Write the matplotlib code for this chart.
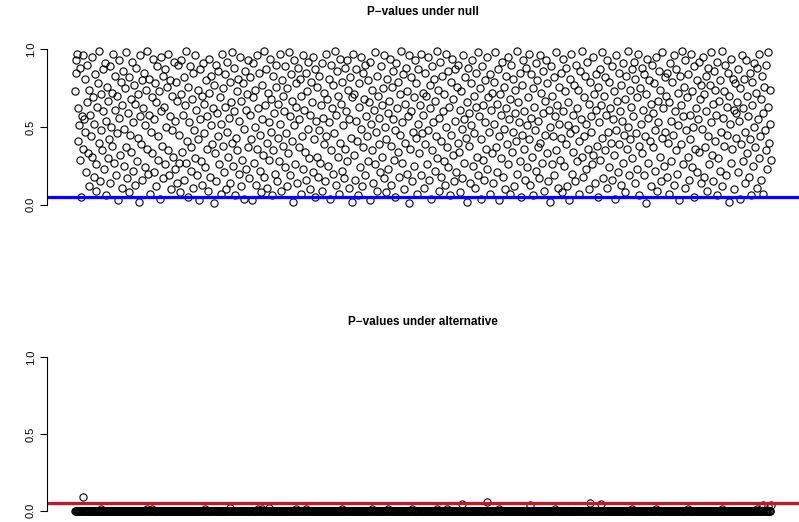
import numpy as np
import matplotlib
matplotlib.use("Agg")
import matplotlib.pyplot as plt

# p-values under the null (in index order)
p_null = [
    .73, .85, .93, .97, .41, .62, .51, .29, .88, .05, .57, .96, .36, .55, .81, .47, .21, .66, .90, .33, .12, .74, .58, .44, .31, .95, .69, .18, .52, .84, .26, .09, .63, .78, .40, .99, .15, .71, .48, .35, .87, .60, .23, .91, .06, .54, .76, .30, .67, .42,
    .89, .14, .50, .72, .38, .97, .27, .61, .83, .19, .46, .70, .03, .93, .56, .32, .79, .11, .64, .86, .25, .49, .75, .37, .98, .17, .59, .82, .08, .45, .68, .34, .92, .22, .53, .77, .13, .65, .88, .28, .43, .71, .02, .96, .57, .39, .80, .16, .62, .85,
    .24, .51, .74, .36, .99, .20, .58, .81, .07, .47, .69, .33, .94, .21, .55, .78, .12, .66, .89, .29, .44, .73, .04, .95, .60, .38, .83, .17, .63, .87, .26, .50, .76, .35, .97, .19, .57, .80, .10, .48, .70, .31, .92, .23, .54, .79, .14, .67, .90, .27,
    .45, .08, .71, .93, .34, .58, .16, .82, .64, .27, .99, .41, .05, .76, .53, .89, .22, .37, .68, .11, .85, .48, .30, .96, .61, .19, .74, .42, .03, .87, .55, .28, .70, .13, .91, .46, .65, .24, .80, .36, .57, .09, .94, .72, .18, .51, .83, .39, .62, .01,
    .77, .33, .90, .15, .59, .44, .86, .26, .69, .07, .52, .97, .38, .75, .21, .63, .84, .10, .47, .92, .31, .56, .79, .14, .66, .40, .98, .25, .60, .88, .06, .43, .73, .35, .81, .20, .54, .95, .12, .67, .29, .78, .49, .04, .86, .61, .23, .71, .37, .93,
    .17, .58, .82, .42, .03, .69, .91, .27, .50, .74, .13, .96, .36, .62, .85, .22, .45, .08, .77, .55, .32, .99, .18, .64, .87, .40, .11, .72, .53, .29, .94, .47, .68, .06, .83, .35, .59, .20, .76, .90, .15, .43, .65, .28, .97, .52, .09, .80, .38, .70,
    .60, .24, .89, .46, .12, .75, .33, .98, .57, .19, .84, .41, .67, .02, .93, .51, .26, .78, .63, .14, .88, .37, .55, .81, .07, .70, .44, .96, .23, .61, .34, .85, .16, .73, .49, .92, .30, .58, .10, .79, .66, .21, .95, .42, .05, .87, .54, .31, .76, .18,
    .83, .48, .27, .64, .91, .09, .56, .72, .39, .15, .97, .44, .68, .25, .81, .53, .04, .90, .35, .62, .77, .20, .46, .99, .13, .58, .86, .31, .70, .07, .94, .40, .65, .22, .79, .51, .17, .88, .36, .60, .93, .28, .74, .11, .55, .82, .43, .02, .69, .97,
    .32, .71, .16, .54, .87, .41, .06, .78, .63, .24, .95, .49, .12, .85, .37, .68, .90, .19, .57, .44, .80, .28, .66, .03, .92, .52, .35, .74, .14, .61, .98, .26, .47, .83, .09, .70, .39, .56, .21, .89, .64, .31, .75, .17, .96, .50, .42, .08, .81, .59,
    .23, .67, .94, .38, .13, .76, .55, .86, .29, .48, .05, .91, .62, .34, .79, .18, .71, .45, .99, .27, .53, .84, .10, .65, .40, .88, .20, .73, .57, .01, .96, .36, .60, .82, .15, .47, .69, .25, .93, .43, .78, .07, .52, .87, .33, .64, .19, .97, .46, .72,
    .58, .11, .85, .39, .70, .26, .95, .48, .16, .77, .62, .04, .89, .35, .53, .81, .22, .67, .44, .99, .30, .74, .09, .56, .92, .41, .18, .83, .60, .28, .71, .13, .97, .50, .37, .86, .24, .63, .06, .79, .45, .94, .32, .68, .15, .87, .54, .21, .76, .40,
    .90, .34, .61, .08, .73, .49, .17, .96, .55, .27, .82, .43, .66, .02, .88, .38, .59, .14, .78, .51, .93, .25, .70, .46, .11, .85, .63, .31, .98, .19, .57, .75, .04, .42, .89, .29, .64, .16, .80, .53, .36, .95, .23, .69, .47, .07, .84, .61, .33, .72,
    .14, .79, .52, .98, .37, .65, .21, .87, .44, .03, .71, .58, .30, .92, .18, .76, .49, .10, .83, .62, .39, .95, .26, .55, .07, .68, .90, .34, .47, .81, .12, .59, .74, .41, .99, .20, .66, .53, .85, .28, .05, .77, .45, .93, .36, .60, .16, .88, .51, .24,
    .69, .42, .97, .13, .56, .84, .31, .75, .06, .63, .48, .91, .22, .80, .37, .54, .17, .96, .40, .72, .27, .86, .59, .09, .67, .45, .93, .33, .78, .15, .61, .50, .02, .89, .26, .70, .44, .82, .19, .57, .98, .35, .64, .11, .76, .52, .29, .85, .43, .08,
    .94, .60, .25, .73, .39, .88, .12, .66, .51, .03, .81, .46, .97, .20, .58, .34, .77, .49, .15, .90, .62, .28, .74, .41, .07, .86, .55, .31, .99, .18, .69, .44, .83, .23, .52, .92, .36, .65, .10, .79, .47, .57, .26, .95, .32, .71, .14, .84, .61, .38,
    .05, .76, .53, .87, .29, .64, .43, .98, .17, .70, .35, .82, .58, .11, .93, .47, .24, .79, .62, .40, .89, .16, .55, .73, .32, .04, .96, .48, .67, .21, .85, .39, .60, .13, .77, .54, .91, .27, .45, .68, .08, .83, .36, .99, .50, .19, .74, .42, .63, .87,
    .30, .57, .92, .14, .81, .46, .69, .23, .97, .38, .06, .75, .52, .88, .33, .61, .19, .84, .44, .71, .01, .94, .56, .27, .80, .41, .65, .12, .90, .37, .59, .78, .22, .48, .95, .09, .67, .53, .86, .31, .74, .15, .43, .98, .62, .25, .82, .47, .70, .18,
    .85, .40, .66, .07, .91, .54, .28, .79, .45, .96, .13, .60, .35, .87, .20, .72, .51, .03, .83, .64, .39, .99, .26, .57, .76, .11, .93, .48, .69, .31, .84, .16, .58, .42, .97, .24, .73, .50, .05, .89, .36, .62, .80, .21, .55, .92, .34, .68, .14, .77,
    .49, .95, .18, .71, .37, .83, .60, .09, .88, .44, .26, .77, .53, .98, .32, .65, .15, .86, .41, .74, .58, .06, .92, .30, .67, .22, .80, .47, .99, .12, .56, .73, .38, .90, .19, .63, .45, .85, .02, .70, .52, .27, .94, .36, .81, .61, .10, .78, .43, .59,
    .66, .21, .87, .54, .04, .75, .39, .96, .28, .62, .81, .14, .47, .93, .33, .70, .57, .18, .85, .42, .06, .79, .64, .25, .91, .50, .37, .72, .11, .88, .55, .30, .97, .44, .68, .16, .83, .59, .07, .76, .48, .35, .90, .23, .63, .98, .40, .74, .52, .29,
]

# p-values under the alternative: nearly all sit on zero, these stand out
n_alt = 1000
alt_idx = [12, 38, 105, 111, 188, 224, 264, 270, 280, 318, 333, 385, 428, 450, 485,
           520, 535, 556, 592, 610, 654, 690, 740, 756, 800, 835, 880, 930, 980, 988, 995, 1000]
alt_val = [0.09, 0.01, 0.015, 0.01, 0.01, 0.02, 0.015, 0.01, 0.02, 0.01, 0.01, 0.015, 0.01, 0.01, 0.01,
           0.015, 0.01, 0.045, 0.055, 0.01, 0.04, 0.015, 0.05, 0.045, 0.01, 0.015, 0.01, 0.01, 0.015, 0.04, 0.03, 0.04]

alpha = 0.05
ticks = [0.0, 0.5, 1.0]
tick_labels = ["0.0", "0.5", "1.0"]

p_alt = [0.0] * n_alt
for i, v in zip(alt_idx, alt_val):
    p_alt[i - 1] = v

plt.rcParams['font.family'] = ['Liberation Sans', 'DejaVu Sans']

W, H = 799, 522
fig = plt.figure(figsize=(W / 100, H / 100), dpi=100)


def panel(top_px, bottom_px, vals, line_color, title, title_px):
    ax = fig.add_axes([47 / W, 1 - bottom_px / H, (W - 47) / W, (bottom_px - top_px) / H])
    n = len(vals)
    x = np.arange(1, n + 1)
    ax.plot(x, vals, 'o', ms=5.2, mfc='none', mec='black', mew=0.8)
    ax.axhline(alpha, color=line_color, lw=2.3)
    pad = 0.04 * (n - 1)
    ax.set_xlim(1 - pad, n + pad)
    ax.set_ylim(-0.04, 1.04)
    for s in ['top', 'right', 'bottom']:
        ax.spines[s].set_visible(False)
    ax.spines['left'].set_bounds(0, 1)
    ax.spines['left'].set_linewidth(0.8)
    ax.set_xticks([])
    ax.set_yticks(ticks)
    ax.set_yticklabels(tick_labels, rotation=90, va='center', fontsize=8)
    ax.tick_params(axis='y', length=5, width=0.8, pad=3)
    fig.text((47 + W) / 2 / W, 1 - title_px / H, title, ha='center', va='center',
             fontsize=8.5, fontweight='bold')
    return ax


panel(43, 211, p_null, 'blue', "P\u2212values under null", 12)
panel(351, 517, p_alt, '#B22222', "P\u2212values under alternative", 322)

fig.savefig("out.png", dpi=100)
